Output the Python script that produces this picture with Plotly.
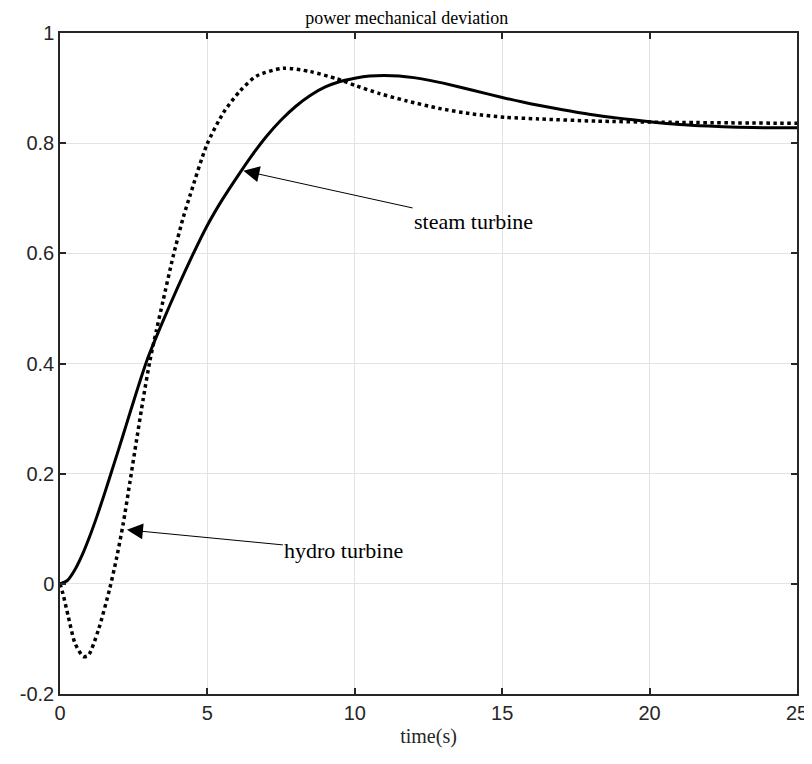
import plotly.graph_objects as go

# Steam turbine response (solid)
steam_t = [0, 0.25, 0.5, 0.75, 1.0, 1.25, 1.5, 1.75, 2.0, 2.25, 2.5, 2.75, 3.0, 3.5, 4.0,
           4.5, 5.0, 5.5, 6.0, 6.5, 7.0, 7.5, 8.0, 8.5, 9.0, 9.5, 10.0, 10.5, 11.0, 11.5,
           12.0, 12.5, 13.0, 14.0, 15.0, 16.0, 17.0, 18.0, 19.0, 20.0, 21.0, 22.0, 23.0,
           24.0, 25.0]
steam_v = [0, 0.006, 0.025, 0.052, 0.085, 0.122, 0.162, 0.204, 0.246, 0.289, 0.332, 0.374,
           0.413, 0.478, 0.539, 0.597, 0.651, 0.697, 0.738, 0.777, 0.812, 0.842, 0.867, 0.887,
           0.902, 0.912, 0.918, 0.922, 0.923, 0.922, 0.919, 0.9145, 0.909, 0.896, 0.883, 0.871,
           0.861, 0.852, 0.845, 0.839, 0.834, 0.831, 0.829, 0.828, 0.828]

# Hydro turbine response (dotted)
hydro_t = [0, 0.1, 0.28, 0.51, 0.79, 0.96, 1.30, 1.69, 1.92, 2.14, 2.37, 2.60, 2.82, 3.05,
           3.27, 3.50, 3.84, 4.18, 4.41, 4.98, 5.54, 6.11, 6.67, 7.58, 8.48, 9.38, 10.06,
           10.84, 11.74, 12.87, 13.99, 15.11, 16.24, 18.19, 20.4, 25.0]
hydro_v = [0, -0.018, -0.059, -0.108, -0.132, -0.130, -0.084, -0.008, 0.047, 0.108, 0.184,
           0.262, 0.335, 0.405, 0.460, 0.515, 0.595, 0.665, 0.705, 0.797, 0.855, 0.895, 0.922,
           0.936, 0.930, 0.917, 0.904, 0.890, 0.877, 0.863, 0.853, 0.847, 0.844, 0.840, 0.838,
           0.836]

x_ticks = [0, 5, 10, 15, 20, 25]
y_ticks = [-0.2, 0, 0.2, 0.4, 0.6, 0.8, 1]
y_tick_text = ["-0.2", "0", "0.2", "0.4", "0.6", "0.8", "1"]

fig = go.Figure()
fig.add_trace(go.Scatter(x=steam_t, y=steam_v, mode="lines",
                         line=dict(color="black", width=3, shape="spline", smoothing=0.6),
                         showlegend=False))
fig.add_trace(go.Scatter(x=hydro_t, y=hydro_v, mode="lines",
                         line=dict(color="black", width=3.5, dash="dot", shape="spline", smoothing=0.7),
                         showlegend=False))

ann_font = dict(family="Liberation Serif", size=22, color="black")
fig.add_annotation(x=6.22, y=0.750, ax=14.03, ay=0.658, axref="x", ayref="y",
                   text="steam turbine", showarrow=True, arrowhead=2, arrowsize=3.2,
                   arrowwidth=1, arrowcolor="black", font=ann_font)
fig.add_annotation(x=2.27, y=0.098, ax=9.63, ay=0.060, axref="x", ayref="y",
                   text="hydro turbine", showarrow=True, arrowhead=2, arrowsize=3.2,
                   arrowwidth=1, arrowcolor="black", font=ann_font)

axis_common = dict(showline=True, linecolor="#262626", linewidth=1.5, mirror="ticks",
                   ticks="inside", ticklen=6, tickcolor="#262626", tickwidth=1.5,
                   showgrid=True, gridcolor="#e3e3e3", gridwidth=1, zeroline=False,
                   automargin=False,
                   tickfont=dict(family="Liberation Sans", size=20, color="#262626"))

fig.update_xaxes(range=[0, 25], tickvals=x_ticks, **axis_common,
                 title=dict(text="time(s)", font=dict(family="Liberation Serif", size=20, color="#262626"),
                            standoff=6))
fig.update_yaxes(range=[-0.2, 1], tickvals=y_ticks, ticktext=y_tick_text, **axis_common)

fig.update_layout(
    width=804, height=756,
    margin=dict(l=52, r=15, t=25, b=70),
    paper_bgcolor="white", plot_bgcolor="white",
    title=dict(text="power mechanical deviation", x=0.496, xanchor="center", xref="container",
               y=0.987, yref="container", yanchor="middle",
               font=dict(family="Liberation Serif", size=18, color="black")),
)

fig.write_html("out.html")
